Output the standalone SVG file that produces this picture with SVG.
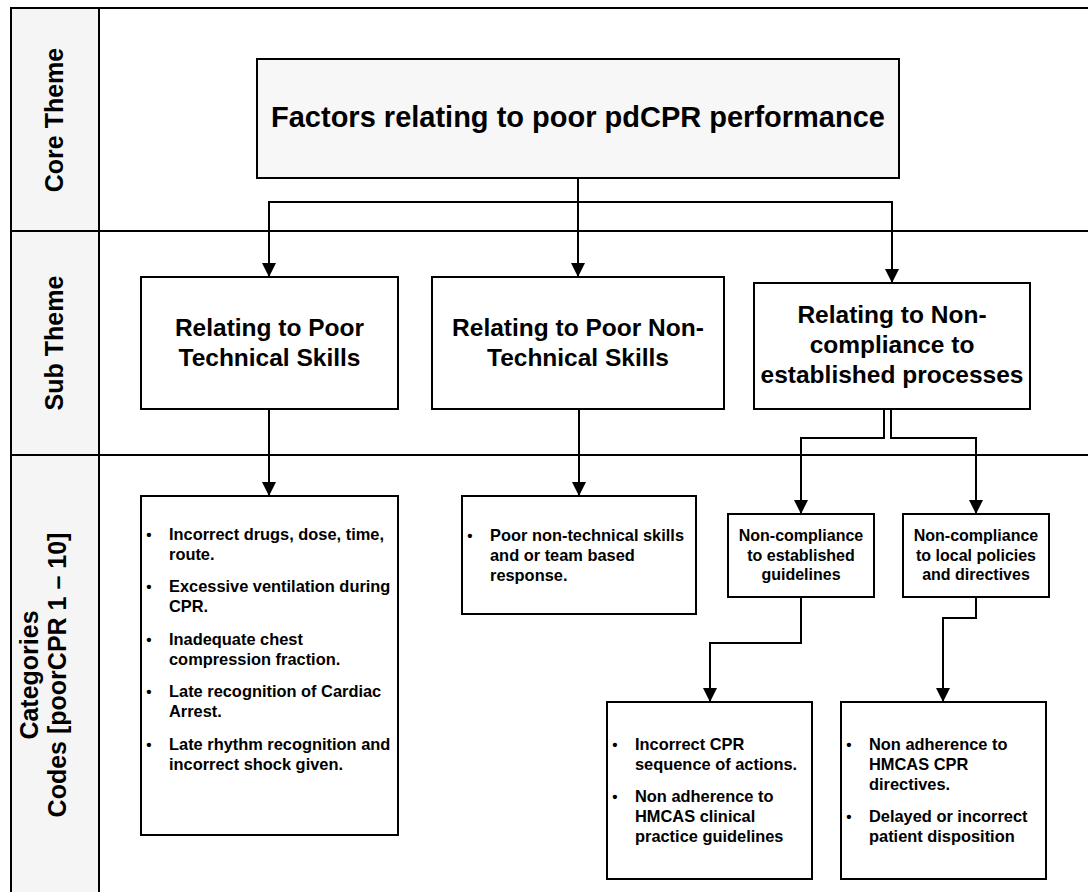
<svg xmlns="http://www.w3.org/2000/svg" width="1088" height="892" viewBox="0 0 1088 892">
  <style>
    text { font-family: "Liberation Sans", Arial, sans-serif; font-weight: bold; fill: #000; }
    .lane { fill: #f5f5f5; stroke: none; }
    .grid { stroke: #000; stroke-width: 2; fill: none; }
    .box { fill: #fff; stroke: #000; stroke-width: 2; }
    .core { fill: #f7f7f7; stroke: #000; stroke-width: 2; }
    .lbl { font-size: 25px; text-anchor: middle; }
    .t-core { font-size: 29px; text-anchor: middle; }
    .t-sub { font-size: 24.5px; text-anchor: middle; }
    .t-cat { font-size: 16px; text-anchor: middle; }
    .t-item { font-size: 16.4px; }
    .bul { font-size: 15px; text-anchor: middle; }
    .conn { stroke: #000; stroke-width: 2; fill: none; marker-end: url(#arrow); }
  </style>
  <defs>
    <marker id="arrow" markerUnits="userSpaceOnUse" markerWidth="14" markerHeight="14" refX="14" refY="7" orient="auto">
      <path d="M0,0 L14,7 L0,14 z" fill="#000"/>
    </marker>
  </defs>

  <rect width="1088" height="892" fill="#fff"/>

  <!-- swimlane frame -->
  <g id="lanes">
    <rect class="lane" x="11" y="8" width="88" height="884"/>
    <path class="grid" d="M1088,8 H11 V892 M99,8 V892 M11,231 H1088 M11,455 H1088"/>
    <text class="lbl" transform="translate(62.5,120) rotate(-90)">Core Theme</text>
    <text class="lbl" transform="translate(62.5,343) rotate(-90)">Sub Theme</text>
    <text class="lbl" transform="translate(37.5,675) rotate(-90)">Categories</text>
    <text class="lbl" transform="translate(66,675) rotate(-90)">Codes [poorCPR 1 – 10]</text>
  </g>

  <!-- connectors -->
  <g id="connectors">
    <path class="conn" d="M578,178 V277"/>
    <path class="conn" d="M578,202 H269 V277"/>
    <path class="conn" d="M578,202 H892 V283"/>
    <path class="conn" d="M269,409 V496"/>
    <path class="conn" d="M579,409 V496"/>
    <path class="conn" d="M884,409 V438 H801 V514"/>
    <path class="conn" d="M891,409 V438 H976 V514"/>
    <path class="conn" d="M801,597 V643 H710 V702"/>
    <path class="conn" d="M976,597 V618 H943 V702"/>
  </g>

  <g id="core-theme">
    <rect class="core" x="257" y="59" width="642" height="119"/>
    <text class="t-core" x="578" y="127">Factors relating to poor pdCPR performance</text>
  </g>

  <g id="sub-technical">
    <rect class="box" x="141" y="277" width="257" height="132"/>
    <text class="t-sub" x="269.5" y="336">Relating to Poor</text>
    <text class="t-sub" x="269.5" y="366">Technical Skills</text>
  </g>

  <g id="sub-nontechnical">
    <rect class="box" x="432" y="277" width="292" height="132"/>
    <text class="t-sub" x="578" y="336">Relating to Poor Non-</text>
    <text class="t-sub" x="578" y="366">Technical Skills</text>
  </g>

  <g id="sub-noncompliance">
    <rect class="box" x="754" y="283" width="276" height="126"/>
    <text class="t-sub" x="892" y="323">Relating to Non-</text>
    <text class="t-sub" x="892" y="353">compliance to</text>
    <text class="t-sub" x="892" y="383">established processes</text>
  </g>

  <g id="cat-technical">
    <rect class="box" x="141" y="496" width="257" height="339"/>
    <text class="bul" x="149" y="540">•</text>
    <text class="t-item" x="169" y="540">Incorrect drugs, dose, time,</text>
    <text class="t-item" x="169" y="560">route.</text>
    <text class="bul" x="149" y="592">•</text>
    <text class="t-item" x="169" y="592">Excessive ventilation during</text>
    <text class="t-item" x="169" y="612">CPR.</text>
    <text class="bul" x="149" y="645">•</text>
    <text class="t-item" x="169" y="645">Inadequate chest</text>
    <text class="t-item" x="169" y="665">compression fraction.</text>
    <text class="bul" x="149" y="697">•</text>
    <text class="t-item" x="169" y="697">Late recognition of Cardiac</text>
    <text class="t-item" x="169" y="717">Arrest.</text>
    <text class="bul" x="149" y="750">•</text>
    <text class="t-item" x="169" y="750">Late rhythm recognition and</text>
    <text class="t-item" x="169" y="770">incorrect shock given.</text>
  </g>

  <g id="cat-nontechnical">
    <rect class="box" x="462" y="496" width="234" height="118"/>
    <text class="bul" x="470" y="541">•</text>
    <text class="t-item" x="490" y="541">Poor non-technical skills</text>
    <text class="t-item" x="490" y="561">and or team based</text>
    <text class="t-item" x="490" y="581">response.</text>
  </g>

  <g id="cat-guidelines">
    <rect class="box" x="728" y="514" width="146" height="83"/>
    <text class="t-cat" x="801" y="541">Non-compliance</text>
    <text class="t-cat" x="801" y="561">to established</text>
    <text class="t-cat" x="801" y="580">guidelines</text>
  </g>

  <g id="cat-policies">
    <rect class="box" x="903" y="514" width="146" height="83"/>
    <text class="t-cat" x="976" y="541">Non-compliance</text>
    <text class="t-cat" x="976" y="561">to local policies</text>
    <text class="t-cat" x="976" y="580">and directives</text>
  </g>

  <g id="codes-guidelines">
    <rect class="box" x="607" y="702" width="205" height="177"/>
    <text class="bul" x="615" y="750">•</text>
    <text class="t-item" x="635" y="750">Incorrect CPR</text>
    <text class="t-item" x="635" y="770">sequence of actions.</text>
    <text class="bul" x="615" y="802">•</text>
    <text class="t-item" x="635" y="802">Non adherence to</text>
    <text class="t-item" x="635" y="822">HMCAS clinical</text>
    <text class="t-item" x="635" y="842">practice guidelines</text>
  </g>

  <g id="codes-policies">
    <rect class="box" x="841" y="702" width="205" height="177"/>
    <text class="bul" x="849" y="750">•</text>
    <text class="t-item" x="869" y="750">Non adherence to</text>
    <text class="t-item" x="869" y="770">HMCAS CPR</text>
    <text class="t-item" x="869" y="790">directives.</text>
    <text class="bul" x="849" y="822">•</text>
    <text class="t-item" x="869" y="822">Delayed or incorrect</text>
    <text class="t-item" x="869" y="842">patient disposition</text>
  </g>
</svg>
